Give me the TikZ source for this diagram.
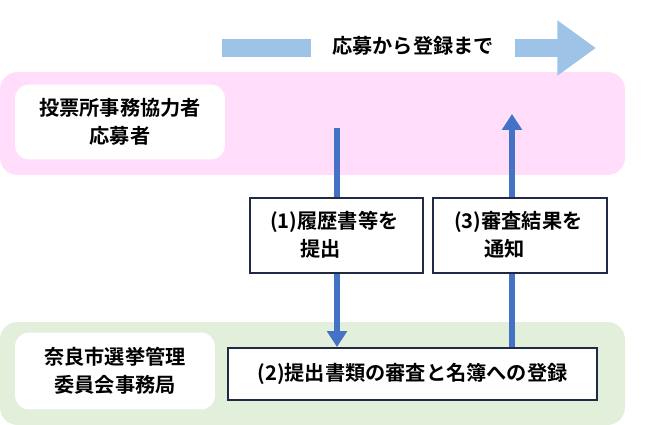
\documentclass[tikz,border=0pt]{standalone}
\usepackage{fontspec}
\newfontfamily\jp{Noto Sans CJK JP}[BoldFont={* Bold}]
\usetikzlibrary{arrows.meta,positioning}
\definecolor{bandpink}{HTML}{FFDDFB}
\definecolor{bandgreen}{HTML}{E2EFDA}
\definecolor{flowblue}{HTML}{4472C4}
\definecolor{paleblue}{HTML}{9DC3E6}
\definecolor{boxline}{HTML}{1F2A44}
\begin{document}
\begin{tikzpicture}[
  x=0.02cm, y=-0.02cm,
  font=\jp\bfseries\fontsize{11.5}{16}\selectfont,
  band/.style={rounded corners=10pt, draw=none},
  label/.style={fill=white, rounded corners=8pt, align=center},
  stepbox/.style={draw=boxline, fill=white, thick, align=left},
  flow/.style={-{Triangle[length=9pt,width=11pt]}, flowblue, line width=3pt}
]
\useasboundingbox (0,0) rectangle (645,425);

% --- bands
\fill[band, bandpink] (0,72) rectangle (625,175);
\fill[band, bandgreen] (0,322) rectangle (625,425);

% --- headline arrow
\coordinate (headstart) at (222,48);
\coordinate (headend) at (596,48);
\draw[paleblue, line width=10pt, -{Triangle[length=22pt,width=30pt]}] (headstart) -- (headend);
\node[fill=white, inner xsep=12pt, inner ysep=3pt] (title) at (413,46) {応募から登録まで};

% --- labels on bands
\node[label, minimum width=4.2cm, minimum height=1.5cm] (appl) at (120,122) {投票所事務協力者\\応募者};
\node[label, minimum width=4cm, minimum height=1.54cm] (office) at (115,371) {奈良市選挙管理\\委員会事務局};

% --- flow arrows
\coordinate (downstart) at (337,128);
\coordinate (downend) at (337,347);
\coordinate (upstart) at (512,347);
\coordinate (upend) at (512,114);
\draw[flow] (downstart) -- (downend);
\draw[flow] (upstart) -- (upend);

% --- step boxes
\node[stepbox, minimum width=7.38cm, minimum height=1.04cm, align=center] (review) at (412.5,374) {(2)提出書類の審査と名簿への登録};
\node[stepbox, minimum width=3.46cm, minimum height=1.5cm] (submitbox) at (336.5,235.5) {};
\node[align=left, anchor=west] (submit) at (264,235) {(1)履歴書等を\\\hspace{1.5em}提出};
\node[stepbox, minimum width=3.48cm, minimum height=1.5cm] (notifybox) at (520,235.5) {};
\node[align=left, anchor=west] (notify) at (448,235) {(3)審査結果を\\\hspace{1.5em}通知};
\end{tikzpicture}
\end{document}
